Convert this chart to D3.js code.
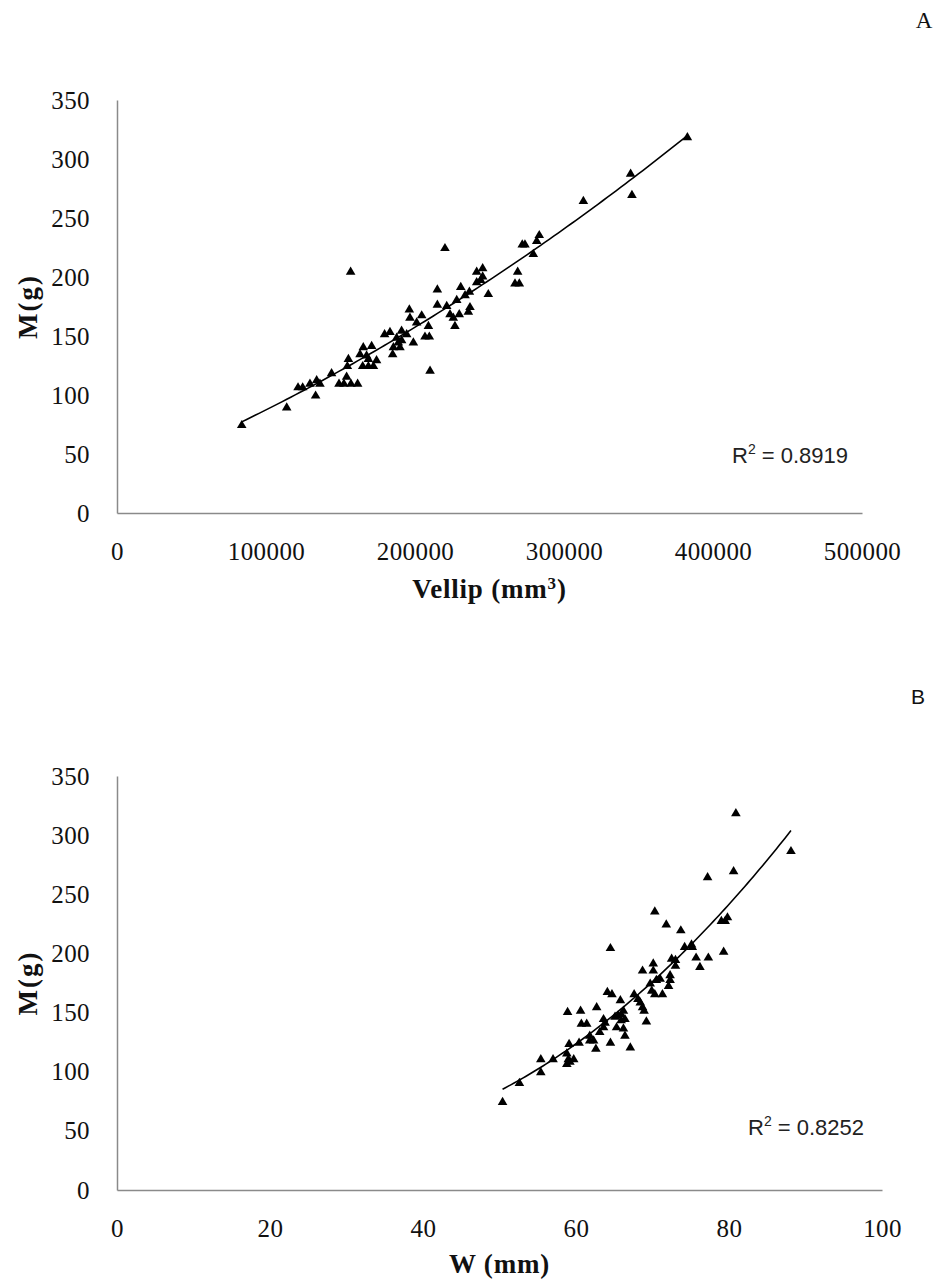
<!DOCTYPE html>
<html>
<head>
<meta charset="utf-8">
<script src="https://cdn.jsdelivr.net/npm/d3@7"></script>
<style>
  html, body { margin: 0; padding: 0; background: #fff; }
  svg { display: block; }
</style>
</head>
<body>
<svg id="chart" width="946" height="1287"></svg>
<script>
// ---------- Data ----------
const volA = [83700,113900,121500,124600,129500,134000,136200,133300,144000,149000,
  154100,152300,157000,161500,155300,154600,156800,163100,165300,164900,
  168700,172100,168700,174200,170900,167500,179600,183200,185500,185000,
  187700,188800,191000,189900,191000,194400,196200,196600,198900,201100,
  204500,209000,206700,209600,210100,215000,215000,220100,221300,223500,
  225700,229700,226800,230700,228000,235800,233600,236500,236900,241400,
  245400,245400,241400,244100,249200,267100,270000,268900,272000,273800,
  279400,281700,283400,313000,344700,345600,382800];
const massA = [75,90,107,107,110,113,110,100,119,110,
  116,110,110,110,131,125,205,135,141,125,
  125,125,131,130,142,134,152,154,141,135,
  149,145,147,141,155,152,173,166,145,162,
  168,159,150,150,121,190,177,225,176,169,
  166,169,159,192,181,171,185,188,175,205,
  208,201,196,198,186,195,195,205,228,228,
  220,231,236,265,288,270,319];

const widthB = [50.4,52.6,55.4,55.4,57.0,58.8,59.0,58.8,59.2,59.7,
  58.9,59.1,60.4,60.6,60.7,61.4,61.8,62.3,61.8,62.7,
  62.6,63.1,63.6,63.8,63.6,64.5,64.1,64.7,64.5,65.3,
  65.1,65.5,65.9,66.2,66.4,65.9,65.8,66.4,66.2,67.1,
  67.6,68.1,68.4,68.7,68.9,68.7,69.2,70.1,70.1,69.7,
  69.9,70.3,71.3,70.5,71.0,72.1,72.3,72.3,72.5,73.0,
  73.0,74.2,80.9,88.1,77.2,80.6,70.3,71.8,73.7,79.0,
  79.5,79.8,75.2,75.1,75.7,77.3,76.2,79.3];
const massB = [75,91,111,100,111,116,111,107,109,111,
  151,124,125,152,141,141,127,127,131,155,
  120,134,138,142,145,125,168,166,205,138,
  147,148,149,152,145,144,161,131,137,121,
  166,162,159,155,152,186,143,192,186,175,
  169,166,166,178,179,173,182,178,196,195,
  190,206,319,287,265,270,236,225,220,228,
  228,231,206,208,197,197,189,202];

const ticksA_x = [0,100000,200000,300000,400000,500000];
const ticksB_x = [0,20,40,60,80,100];
const ticksY = [0,50,100,150,200,250,300,350];

const r2A = "0.8919";
const r2B = "0.8252";

// ---------- Helpers ----------
function quadFit(xs, ys) {
  // least squares y = a + b x + c x^2
  let s = [0,0,0,0,0], t = [0,0,0];
  for (let i = 0; i < xs.length; i++) {
    const x = xs[i], y = ys[i];
    let p = 1;
    for (let k = 0; k < 5; k++) { s[k] += p; p *= x; }
    t[0] += y; t[1] += y * x; t[2] += y * x * x;
  }
  const M = [[s[0],s[1],s[2],t[0]],[s[1],s[2],s[3],t[1]],[s[2],s[3],s[4],t[2]]];
  for (let i = 0; i < 3; i++) {
    for (let j = i + 1; j < 3; j++) {
      const f = M[j][i] / M[i][i];
      for (let k = i; k < 4; k++) M[j][k] -= f * M[i][k];
    }
  }
  const c = [0,0,0];
  for (let i = 2; i >= 0; i--) {
    let v = M[i][3];
    for (let k = i + 1; k < 3; k++) v -= M[i][k] * c[k];
    c[i] = v / M[i][i];
  }
  return x => c[0] + c[1] * x + c[2] * x * x;
}

const svg = d3.select("#chart");
const serif = "'Liberation Serif', 'Times New Roman', serif";
const sans = "'Liberation Sans', Arial, sans-serif";
const tri = "M0,-4.6L4.8,3.6L-4.8,3.6Z";

function panel(cfg) {
  const g = svg.append("g");
  const x = d3.scaleLinear().domain(cfg.xDomain).range([cfg.left, cfg.right]);
  const y = d3.scaleLinear().domain([0, 350]).range([cfg.bottom, cfg.top]);

  // y axis
  const ya = d3.axisLeft(y).tickValues(ticksY).tickSize(0).tickPadding(27);
  const yg = g.append("g").attr("transform", `translate(${cfg.left},0)`).call(ya);
  yg.select(".domain").attr("stroke", "#8a8a8a").attr("stroke-width", 1.5);
  yg.selectAll("text").attr("font-family", serif).attr("font-size", 25)
    .attr("fill", "#111").attr("dy", "0.32em").attr("letter-spacing", 0.4);

  // x axis
  const xa = d3.axisBottom(x).tickValues(cfg.xTicks).tickSize(0).tickPadding(29)
    .tickFormat(d3.format("d"));
  const xg = g.append("g").attr("transform", `translate(0,${cfg.bottom})`).call(xa);
  xg.select(".domain").attr("stroke", "#8a8a8a").attr("stroke-width", 1.5);
  xg.selectAll("text").attr("font-family", serif).attr("font-size", 25)
    .attr("fill", "#111").attr("letter-spacing", 0.4);

  // trend line
  const fit = quadFit(cfg.xs.map(v => v / cfg.xNorm), cfg.ys);
  const x0 = d3.min(cfg.xs), x1 = d3.max(cfg.xs);
  const pts = d3.range(0, 101).map(i => {
    const xv = x0 + (x1 - x0) * i / 100;
    return [xv, fit(xv / cfg.xNorm)];
  });
  g.append("path")
    .attr("d", d3.line().x(d => x(d[0])).y(d => y(d[1]))(pts))
    .attr("fill", "none").attr("stroke", "#000").attr("stroke-width", 1.6);

  // points
  g.append("g").selectAll("path").data(cfg.xs.map((v, i) => [v, cfg.ys[i]]))
    .join("path")
    .attr("d", tri)
    .attr("transform", d => `translate(${x(d[0])},${y(d[1])})`)
    .attr("fill", "#000");

  // R² label
  const r = g.append("text").attr("x", cfg.r2x).attr("y", cfg.r2y)
    .attr("font-family", sans).attr("font-size", 22).attr("fill", "#222");
  r.append("tspan").text("R");
  r.append("tspan").attr("font-size", 14).attr("dy", -9).text("2");
  r.append("tspan").attr("dy", 9).text(" = " + cfg.r2);

  // axis titles
  const xt = g.append("text").attr("x", (cfg.left + cfg.right) / 2).attr("y", cfg.xTitleY)
    .attr("text-anchor", "middle").attr("font-family", serif)
    .attr("font-weight", "bold").attr("font-size", 27).attr("letter-spacing", 0.8)
    .attr("fill", "#111");
  xt.append("tspan").text(cfg.xTitle);
  if (cfg.xTitleSup) {
    xt.append("tspan").attr("font-size", 17).attr("dy", -9).text(cfg.xTitleSup);
    xt.append("tspan").attr("dy", 9).text(")");
  }
  g.append("text")
    .attr("transform", `translate(37,${(cfg.top + cfg.bottom) / 2}) rotate(-90)`)
    .attr("text-anchor", "middle").attr("font-family", serif)
    .attr("font-weight", "bold").attr("font-size", 27).attr("letter-spacing", 2)
    .attr("fill", "#111")
    .text("M(g)");
}

panel({
  xDomain: [0, 500000], xTicks: ticksA_x, left: 117, right: 862, top: 100, bottom: 513,
  xs: volA, ys: massA, xNorm: 100000,
  r2: r2A, r2x: 732, r2y: 463,
  xTitle: "Vellip (mm", xTitleSup: "3", xTitleY: 598
});
panel({
  xDomain: [0, 100], xTicks: ticksB_x, left: 117, right: 882, top: 776, bottom: 1190,
  xs: widthB, ys: massB, xNorm: 1,
  r2: r2B, r2x: 748, r2y: 1135,
  xTitle: "W (mm)", xTitleSup: null, xTitleY: 1273
});

// panel letters
svg.append("text").attr("x", 924).attr("y", 28).attr("text-anchor", "middle")
  .attr("font-family", serif).attr("font-size", 23).attr("fill", "#111").text("A");
svg.append("text").attr("x", 918).attr("y", 704).attr("text-anchor", "middle")
  .attr("font-family", sans).attr("font-size", 21).attr("fill", "#111").text("B");
</script>
</body>
</html>
